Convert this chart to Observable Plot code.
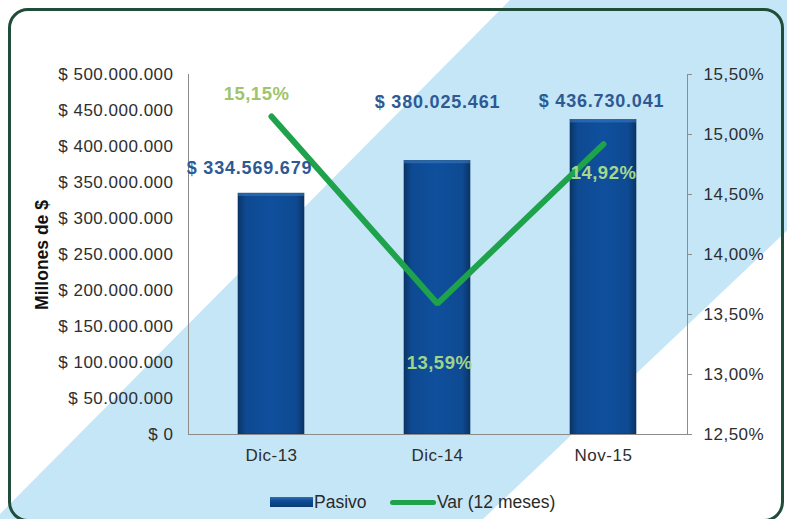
<!DOCTYPE html>
<html>
<head>
<meta charset="utf-8">
<script src="https://cdn.jsdelivr.net/npm/d3@7"></script>
<script src="https://cdn.jsdelivr.net/npm/@observablehq/plot@0.6"></script>
<style>
  html, body { margin: 0; padding: 0; background: #fff; }
  #wrap { position: relative; width: 787px; height: 519px; overflow: hidden; font-family: "Liberation Sans", Arial, sans-serif; }
  #band { position: absolute; left: 0; top: 0; }
  #frame { position: absolute; left: 8px; top: 8px; width: 770px; height: 508px; border: 3px solid #1f4d3a; border-radius: 20px; }
  #chart { position: absolute; left: 0; top: 0; }
  #legend { position: absolute; top: 491px; left: 0; width: 787px; height: 22px; font-size: 17.5px; color: #2a2a2a; }
  .lg { position: absolute; top: 0; line-height: 22px; }
</style>
</head>
<body>
<div id="wrap">
  <svg id="band" width="787" height="519"><polygon points="510,0 1030,0 483,519 -5,519" fill="#c5e6f6"/></svg>
  <div id="frame"></div>
  <div id="chart"></div>
  <div id="legend">
    <div class="lg" style="left:270px;top:6px;width:43px;height:10px;background:linear-gradient(#2f6fb8,#0d4a93 40%,#0a3a75);"></div>
    <div class="lg" style="left:314px;">Pasivo</div>
    <div class="lg" style="left:390px;top:9px;width:46px;height:5px;border-radius:3px;background:#1ea24c;"></div>
    <div class="lg" style="left:437px;">Var (12 meses)</div>
  </div>
</div>
<script>
const categories = ["Dic-13", "Dic-14", "Nov-15"];
const pasivo = [334569679, 380025461, 436730041];
const variacion = [15.15, 13.59, 14.92];
const leftTicks = [0, 50e6, 100e6, 150e6, 200e6, 250e6, 300e6, 350e6, 400e6, 450e6, 500e6];
const rightTicks = [12.5, 13.0, 13.5, 14.0, 14.5, 15.0, 15.5];

const pctMin = 12.5, pctMax = 15.5, yMax = 500e6;
const toY = p => (p - pctMin) / (pctMax - pctMin) * yMax;
const fromY = v => pctMin + v / yMax * (pctMax - pctMin);

const loc = d3.formatLocale({decimal: ",", thousands: ".", grouping: [3], currency: ["$ ", ""]});
const fmtMoney = loc.format("$,");
const fmtPct = p => loc.format(".2f")(p) + "%";

const data = categories.map((c, i) => ({cat: c, pasivo: pasivo[i], pct: variacion[i], yPct: toY(variacion[i])}));

const barLabelOffset = {"Dic-13": [-22, -25], "Dic-14": [0, -59], "Nov-15": [-2, -19]};
const pctLabelOffset = {"Dic-13": [-15, -22, "#9fc46c"], "Dic-14": [2, 59, "#9fd48a"], "Nov-15": [0, 29, "#a4d88c"]};

const axisLines = (index, scales, values, dim) => {
  const g = d3.create("svg:g");
  const x0 = dim.marginLeft, x1 = dim.width - dim.marginRight;
  const y0 = dim.marginTop, y1 = dim.height - dim.marginBottom;
  g.append("line").attr("x1", x0 + 0.5).attr("x2", x0 + 0.5).attr("y1", y0).attr("y2", y1).attr("stroke", "#8c8c8c");
  g.append("line").attr("x1", x1 + 0.5).attr("x2", x1 + 0.5).attr("y1", y0).attr("y2", y1).attr("stroke", "#8c8c8c");
  g.append("line").attr("x1", x0).attr("x2", x1 + 1).attr("y1", y1 + 0.5).attr("y2", y1 + 0.5).attr("stroke", "#8c8c8c");
  return g.node();
};

const chart = Plot.plot({
  width: 787,
  height: 470,
  marginTop: 74,
  marginBottom: 36,
  marginLeft: 188,
  marginRight: 100,
  style: {background: "transparent", fontFamily: "Liberation Sans, Arial, sans-serif", fontSize: "17px", color: "#2e2e2e", overflow: "visible", letterSpacing: "0.5px"},
  x: {domain: categories, paddingInner: 0.6, paddingOuter: 0.3, label: null},
  y: {domain: [0, yMax], label: null},
  marks: [
    Plot.barY(data, {x: "cat", y: "pasivo", fill: "url(#barGrad)", stroke: "#0a3466", strokeWidth: 0.6}),
    Plot.barY(data, {x: "cat", y1: d => d.pasivo - 4e6, y2: "pasivo", fill: "#3a7cc4", fillOpacity: 0.55}),
    axisLines,
    Plot.axisY({anchor: "left", ticks: leftTicks, tickSize: 0, tickPadding: 15, tickFormat: fmtMoney, fontSize: 17, label: null}),
    Plot.axisY({anchor: "right", ticks: rightTicks.map(toY), tickSize: 4, tickPadding: 12, tickFormat: v => fmtPct(fromY(v)), fontSize: 17, stroke: "#8c8c8c", label: null}),
    Plot.axisX({tickSize: 0, tickPadding: 14, fontSize: 17, label: null}),
    Plot.line(data, {x: "cat", y: "yPct", stroke: "#1ea24c", strokeWidth: 6, strokeLinecap: "round", strokeLinejoin: "miter"}),
    ...data.map(d => Plot.text([d], {x: "cat", y: "pasivo", text: r => fmtMoney(r.pasivo), dx: barLabelOffset[d.cat][0], dy: barLabelOffset[d.cat][1], fill: "#2e5a94", fontWeight: "bold", fontSize: 18})),
    ...data.map(d => Plot.text([d], {x: "cat", y: "yPct", text: r => fmtPct(r.pct), dx: pctLabelOffset[d.cat][0], dy: pctLabelOffset[d.cat][1], fill: pctLabelOffset[d.cat][2], fontWeight: "bold", fontSize: 18.5}))
  ]
});

const defs = d3.create("svg:defs");
const grad = defs.append("linearGradient").attr("id", "barGrad").attr("x1", "0").attr("x2", "1").attr("y1", "0").attr("y2", "0");
grad.append("stop").attr("offset", "0%").attr("stop-color", "#0b3566");
grad.append("stop").attr("offset", "12%").attr("stop-color", "#0e4a92");
grad.append("stop").attr("offset", "50%").attr("stop-color", "#0f4f9c");
grad.append("stop").attr("offset", "88%").attr("stop-color", "#0e4a92");
grad.append("stop").attr("offset", "100%").attr("stop-color", "#0b3566");
chart.insertBefore(defs.node(), chart.firstChild);

d3.select(chart).selectAll("g[aria-label='text'][fill='#2e5a94']").attr("letter-spacing", "0.8px");

d3.select(chart).append("text")
  .attr("transform", "translate(48,255) rotate(-90)")
  .attr("text-anchor", "middle")
  .attr("font-weight", "bold")
  .attr("font-size", 17.5)
  .attr("letter-spacing", "0px")
  .attr("fill", "#111")
  .text("Millones de $");

document.getElementById("chart").appendChild(chart);
</script>
</body>
</html>
